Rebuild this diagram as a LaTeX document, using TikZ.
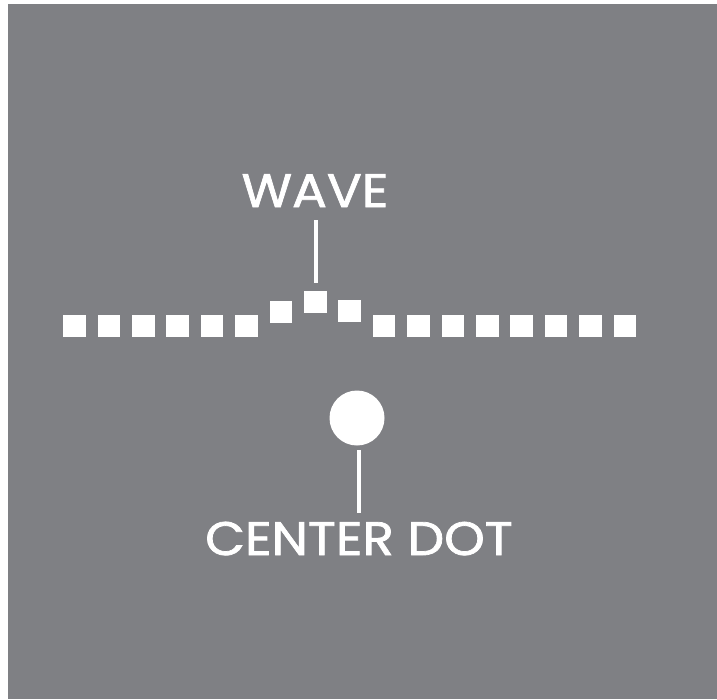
\documentclass[tikz,border=0pt]{standalone}
\usepackage{fontspec}
\newfontfamily\lblfont{Poppins}[FakeBold=1.6,FakeStretch=1.1]
\definecolor{bg}{RGB}{127,128,132}
\begin{document}
\begin{tikzpicture}[x=1pt,y=-1pt,
  sq/.style={fill=white, draw=none, minimum size=22.5pt, inner sep=0pt},
  lbl/.style={text=white, font=\lblfont\fontsize{47}{47}\selectfont, inner sep=0pt},
  stem/.style={draw=white, line width=4pt}]
\useasboundingbox (0,0) rectangle (717,699);
\fill[white] (0,0) rectangle (717,699);
\fill[bg] (8,4) rectangle (717,699);
\foreach \i/\y in {1/326,2/326,3/326,4/326,5/326,6/326,7/312,8/302,9/311,10/326,11/326,12/326,13/326,14/326,15/326,16/326,17/326}{
  \node[sq] (q\i) at ({74.5+34.4*(\i-1)},\y) {};
}
\node[lbl, anchor=base] (wave) at (315,207) {WAVE};
\coordinate (wend) at (315.5,283);
\draw[stem] ([yshift=-13pt]wave.south -| wend) -- (wend);
\node[circle, fill=white, minimum size=55pt, inner sep=0pt] (dot) at (357,418) {};
\node[lbl, anchor=base] (center) at (359,555) {CENTER DOT};
\coordinate (dtop) at (358.5,450);
\coordinate (dend) at (358.5,513);
\draw[stem] (dtop) -- (dend);
\end{tikzpicture}
\end{document}
